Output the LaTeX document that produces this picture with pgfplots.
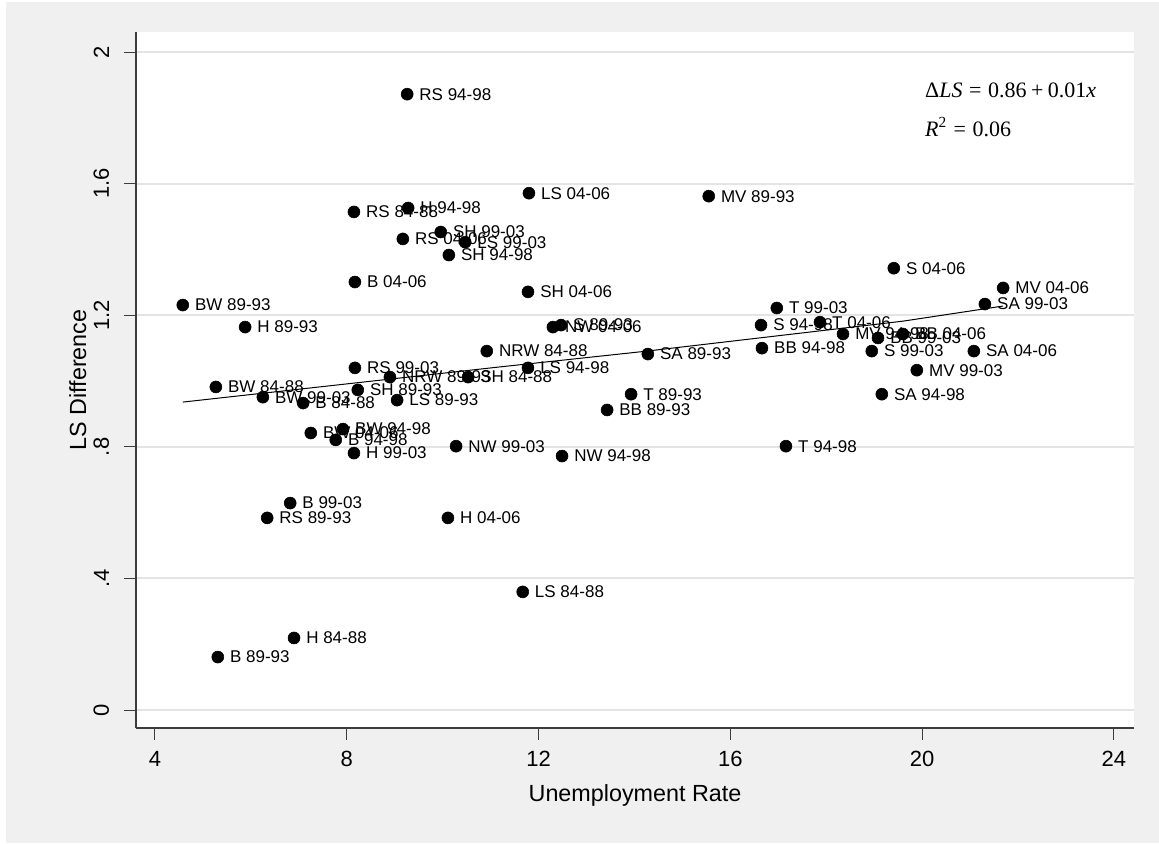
\documentclass[border=0pt]{standalone}
\usepackage{fontspec}
\setmainfont{Liberation Sans}
\newfontfamily\timesf{Liberation Serif}
\usepackage{pgfplots}
\pgfplotsset{compat=1.18}
\definecolor{bggray}{RGB}{240,240,240}
\definecolor{gridgray}{RGB}{228,228,228}
\definecolor{axgray}{RGB}{60,60,60}
\begin{document}
\begin{tikzpicture}
\begin{scope}[x=0.75pt,y=0.75pt]
\fill[white] (-136,-115) rectangle (1023,728);
\fill[bggray] (-130,-115) rectangle (1023,726);
\end{scope}
\begin{axis}[
 at={(0,0)}, anchor=south west,
 width=748.5pt, height=522pt, scale only axis,
 xmin=3.604, xmax=24.42, ymin=-0.0547, ymax=2.061,
 axis background/.style={fill=white},
 axis x line*=bottom, axis y line*=left,
 axis line style={axgray, line width=1pt, -},
 xtick={4,8,12,16,20,24},
 ytick={0,0.4,0.8,1.2,1.6,2},
 yticklabels={0,.4,.8,1.2,1.6,2},
 minor tick num=0,
 tick align=outside,
 major tick length=9pt,
 tick style={axgray, line width=0.75pt},
 ymajorgrids,
 major grid style={gridgray, line width=1.5pt},
 /pgf/number format/assume math mode=true,
 tick label style={font=\fontsize{16.5}{18}\selectfont, text=black},
 xticklabel style={yshift=-8pt, anchor=north, inner sep=0pt},
 yticklabel style={xshift=-11pt, rotate=90, anchor=south, inner sep=0pt},
 xlabel={Unemployment Rate},
 ylabel={LS Difference},
 label style={font=\fontsize{17.5}{20}\selectfont, text=black},
 xlabel style={at={(axis description cs:0.5,-0.1049)}, anchor=base, inner sep=0pt},
 ylabel style={at={(axis description cs:-0.0501,0.5)}, anchor=base, inner sep=0pt},
 clip=false,
]
\addplot[black, line width=0.75pt] coordinates {
 (4.58,0.936) (11.2,1.043) (14.2,1.09) (19.6,1.182) (21.69,1.228)
};
\addplot[only marks, mark=*, mark size=4.5pt, black,
 point meta=explicit symbolic,
 nodes near coords,
 nodes near coords align={horizontal},
 nodes near coords style={anchor=west, inner sep=0pt, xshift=9pt,
   font=\fontsize{12.75}{14}\selectfont, text=black},
] coordinates {
 (9.26,1.872) [RS 94-98]
 (11.80,1.571) [LS 04-06]
 (15.55,1.562) [MV 89-93]
 (9.28,1.526) [H 94-98]
 (8.15,1.514) [RS 84-88]
 (9.96,1.453) [SH 99-03]
 (9.17,1.432) [RS 04-06]
 (10.47,1.422) [LS 99-03]
 (10.13,1.383) [SH 94-98]
 (11.78,1.271) [SH 04-06]
 (8.17,1.301) [B 04-06]
 (4.58,1.231) [BW 89-93]
 (5.88,1.164) [H 89-93]
 (8.17,1.040) [RS 99-03]
 (8.90,1.012) [NRW 89-93]
 (10.53,1.012) [SH 84-88]
 (5.27,0.982) [BW 84-88]
 (8.23,0.973) [SH 89-93]
 (6.25,0.951) [BW 99-03]
 (7.09,0.933) [B 84-88]
 (9.05,0.942) [LS 89-93]
 (7.25,0.842) [BW 04-06]
 (7.92,0.854) [BW 94-98]
 (7.77,0.821) [B 94-98]
 (8.15,0.781) [H 99-03]
 (10.28,0.802) [NW 99-03]
 (6.82,0.629) [B 99-03]
 (6.34,0.584) [RS 89-93]
 (10.11,0.584) [H 04-06]
 (11.67,0.359) [LS 84-88]
 (6.90,0.219) [H 84-88]
 (5.31,0.161) [B 89-93]
 (12.30,1.164) [NW 04-06]
 (12.47,1.170) [S 89-93]
 (10.92,1.091) [NRW 84-88]
 (11.78,1.040) [LS 94-98]
 (14.28,1.082) [SA 89-93]
 (13.93,0.960) [T 89-93]
 (13.43,0.912) [BB 89-93]
 (12.49,0.772) [NW 94-98]
 (16.97,1.222) [T 99-03]
 (16.64,1.170) [S 94-98]
 (17.87,1.179) [T 04-06]
 (18.35,1.143) [MV 94-98]
 (16.66,1.100) [BB 94-98]
 (19.08,1.131) [BB 99-03]
 (19.60,1.143) [BB 04-06]
 (18.95,1.091) [S 99-03]
 (21.08,1.091) [SA 04-06]
 (19.89,1.033) [MV 99-03]
 (19.16,0.960) [SA 94-98]
 (17.16,0.802) [T 94-98]
 (21.69,1.283) [MV 04-06]
 (21.31,1.234) [SA 99-03]
 (19.41,1.343) [S 04-06]
};
\node[anchor=west, inner sep=0pt, font=\timesf\fontsize{16.5}{18}\selectfont] at (axis cs:20.06,1.884) {Δ\textit{LS}\hspace{0.3em}=\hspace{0.3em}0.86\hspace{0.2em}+\hspace{0.2em}0.01\textit{x}};
\node[anchor=west, inner sep=0pt, font=\timesf\fontsize{16.5}{18}\selectfont] at (axis cs:20.06,1.772) {\textit{R}\textsuperscript{2}\hspace{0.3em}=\hspace{0.3em}0.06};
\end{axis}
\end{tikzpicture}
\end{document}
